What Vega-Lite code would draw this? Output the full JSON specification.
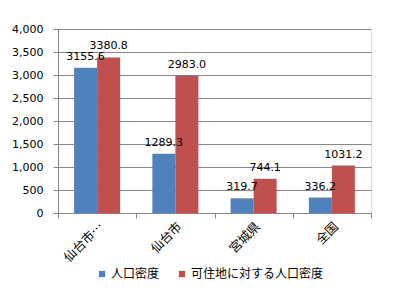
{
  "$schema": "https://vega.github.io/schema/vega-lite/v6.json",
  "width": 313,
  "height": 184,
  "autosize": {"type": "none"},
  "padding": {"left": 58, "top": 29, "right": 33, "bottom": 77},
  "background": "white",
  "data": {
    "values": [
      {"area": "仙台市…", "series": "人口密度", "value": 3155.6},
      {"area": "仙台市…", "series": "可住地に対する人口密度", "value": 3380.8},
      {"area": "仙台市", "series": "人口密度", "value": 1289.3},
      {"area": "仙台市", "series": "可住地に対する人口密度", "value": 2983.0},
      {"area": "宮城県", "series": "人口密度", "value": 319.7},
      {"area": "宮城県", "series": "可住地に対する人口密度", "value": 744.1},
      {"area": "全国", "series": "人口密度", "value": 336.2},
      {"area": "全国", "series": "可住地に対する人口密度", "value": 1031.2}
    ]
  },
  "encoding": {
    "x": {
      "field": "area", "type": "nominal", "sort": null,
      "scale": {"paddingInner": 0, "paddingOuter": 0},
      "axis": {
        "title": null, "labelAngle": -45, "labelAlign": "right", "labelBaseline": "middle",
        "labelFont": "Noto Sans CJK JP", "labelFontSize": 12.5, "labelColor": "#000000",
        "labelPadding": 6, "labelOffset": 4,
        "tickBand": "extent", "tickSize": 5, "tickColor": "#868686",
        "domainColor": "#868686", "grid": false
      }
    },
    "xOffset": {
      "field": "series", "type": "nominal", "sort": ["人口密度", "可住地に対する人口密度"],
      "scale": {"paddingInner": 0, "paddingOuter": 0.7}
    },
    "y": {
      "field": "value", "type": "quantitative",
      "scale": {"domain": [0, 4000], "nice": false},
      "axis": {
        "title": null, "values": [0, 500, 1000, 1500, 2000, 2500, 3000, 3500, 4000],
        "format": ",.0f", "labelFont": "DejaVu Sans", "labelFontSize": 11, "labelColor": "#000000",
        "labelPadding": 10,
        "tickSize": 5, "tickColor": "#868686", "domainColor": "#868686",
        "gridColor": "#868686", "gridWidth": 1
      }
    }
  },
  "layer": [
    {
      "mark": {"type": "bar"},
      "encoding": {
        "color": {
          "field": "series", "type": "nominal", "sort": ["人口密度", "可住地に対する人口密度"],
          "scale": {"range": ["#4F81BD", "#C0504D"]},
          "legend": {
            "title": null, "orient": "none", "direction": "horizontal",
            "legendX": 38, "legendY": 239,
            "symbolType": "square", "symbolSize": 40, "symbolStrokeWidth": 0,
            "labelFont": "Noto Sans CJK JP", "labelFontSize": 12, "labelColor": "#000000",
            "columnPadding": 16, "labelOffset": 3
          }
        }
      }
    },
    {
      "mark": {"type": "text", "baseline": "alphabetic", "dy": -8, "font": "DejaVu Sans", "fontSize": 11, "color": "#000000"},
      "encoding": {
        "text": {"field": "value", "type": "quantitative", "format": ".1f"}
      }
    }
  ]
}
